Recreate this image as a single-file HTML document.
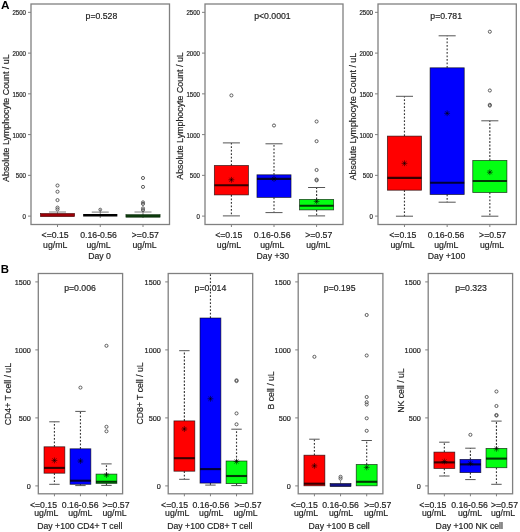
<!DOCTYPE html>
<html><head><meta charset="utf-8"><title>Boxplots</title>
<style>html,body{margin:0;padding:0;background:#fff;width:520px;height:532px;overflow:hidden}svg{display:block;will-change:transform}text{font-family:"Liberation Sans",sans-serif}</style>
</head><body>
<svg width="520" height="532" viewBox="0 0 520 532" font-family="Liberation Sans, sans-serif">
<rect width="520" height="532" fill="#fff"/>
<text x="1.00" y="9.30" font-size="11.8" text-anchor="start" fill="#000" font-weight="bold">A</text>
<text x="0.80" y="273.20" font-size="11.4" text-anchor="start" fill="#000" font-weight="bold">B</text>
<rect x="31.00" y="4.00" width="138.50" height="220.50" fill="none" stroke="#808080" stroke-width="1.3"/>
<line x1="28.00" y1="216.10" x2="31.00" y2="216.10" stroke="#808080" stroke-width="1"/>
<text x="26.00" y="219.20" font-size="6.4" text-anchor="end" fill="#222" stroke="#222" stroke-width="0.18" textLength="3.40" lengthAdjust="spacingAndGlyphs">0</text>
<line x1="28.00" y1="175.35" x2="31.00" y2="175.35" stroke="#808080" stroke-width="1"/>
<text x="26.00" y="178.45" font-size="6.4" text-anchor="end" fill="#222" stroke="#222" stroke-width="0.18" textLength="10.20" lengthAdjust="spacingAndGlyphs">500</text>
<line x1="28.00" y1="134.60" x2="31.00" y2="134.60" stroke="#808080" stroke-width="1"/>
<text x="26.00" y="137.70" font-size="6.4" text-anchor="end" fill="#222" stroke="#222" stroke-width="0.18" textLength="13.60" lengthAdjust="spacingAndGlyphs">1000</text>
<line x1="28.00" y1="93.85" x2="31.00" y2="93.85" stroke="#808080" stroke-width="1"/>
<text x="26.00" y="96.95" font-size="6.4" text-anchor="end" fill="#222" stroke="#222" stroke-width="0.18" textLength="13.60" lengthAdjust="spacingAndGlyphs">1500</text>
<line x1="28.00" y1="53.10" x2="31.00" y2="53.10" stroke="#808080" stroke-width="1"/>
<text x="26.00" y="56.20" font-size="6.4" text-anchor="end" fill="#222" stroke="#222" stroke-width="0.18" textLength="13.60" lengthAdjust="spacingAndGlyphs">2000</text>
<line x1="28.00" y1="12.35" x2="31.00" y2="12.35" stroke="#808080" stroke-width="1"/>
<text x="26.00" y="15.45" font-size="6.4" text-anchor="end" fill="#222" stroke="#222" stroke-width="0.18" textLength="13.60" lengthAdjust="spacingAndGlyphs">2500</text>
<line x1="57.50" y1="224.50" x2="57.50" y2="227.00" stroke="#808080" stroke-width="1"/>
<line x1="100.25" y1="224.50" x2="100.25" y2="227.00" stroke="#808080" stroke-width="1"/>
<line x1="143.00" y1="224.50" x2="143.00" y2="227.00" stroke="#808080" stroke-width="1"/>
<text x="9.10" y="118.20" font-size="8.85" text-anchor="middle" fill="#222" stroke="#222" stroke-width="0.18" transform="rotate(-90 9.10 118.20)">Absolute Lymphocyte Count / uL</text>
<text x="101.40" y="18.80" font-size="8.7" text-anchor="middle" fill="#222" stroke="#222" stroke-width="0.18">p=0.528</text>
<text x="55.10" y="237.60" font-size="8.7" text-anchor="middle" fill="#222" stroke="#222" stroke-width="0.18">&lt;=0.15</text>
<text x="55.20" y="248.10" font-size="8.7" text-anchor="middle" fill="#222" stroke="#222" stroke-width="0.18">ug/mL</text>
<text x="98.60" y="237.60" font-size="8.7" text-anchor="middle" fill="#222" stroke="#222" stroke-width="0.18">0.16-0.56</text>
<text x="98.60" y="248.10" font-size="8.7" text-anchor="middle" fill="#222" stroke="#222" stroke-width="0.18">ug/mL</text>
<text x="145.30" y="237.60" font-size="8.7" text-anchor="middle" fill="#222" stroke="#222" stroke-width="0.18">&gt;=0.57</text>
<text x="144.60" y="248.10" font-size="8.7" text-anchor="middle" fill="#222" stroke="#222" stroke-width="0.18">ug/mL</text>
<text x="99.50" y="258.90" font-size="8.7" text-anchor="middle" fill="#222" stroke="#222" stroke-width="0.18">Day 0</text>
<line x1="57.50" y1="213.60" x2="57.50" y2="212.00" stroke="#555" stroke-width="0.8"/>
<line x1="49.00" y1="212.00" x2="66.00" y2="212.00" stroke="#777" stroke-width="0.9"/>
<rect x="40.40" y="213.5" width="34.20" height="3.1" fill="#9a0008" stroke="#400" stroke-width="0.6"/>
<circle cx="57.50" cy="185.50" r="1.55" fill="none" stroke="#555" stroke-width="0.95"/>
<circle cx="57.50" cy="191.70" r="1.55" fill="none" stroke="#555" stroke-width="0.95"/>
<circle cx="57.50" cy="200.10" r="1.55" fill="none" stroke="#555" stroke-width="0.95"/>
<circle cx="57.50" cy="207.60" r="1.55" fill="none" stroke="#555" stroke-width="0.95"/>
<circle cx="57.50" cy="209.40" r="1.55" fill="none" stroke="#555" stroke-width="0.95"/>
<line x1="91.75" y1="212.10" x2="108.75" y2="212.10" stroke="#666" stroke-width="0.9"/>
<line x1="100.25" y1="209.00" x2="100.25" y2="218.00" stroke="#555" stroke-width="0.7"/>
<line x1="83.15" y1="215.30" x2="117.35" y2="215.30" stroke="#000" stroke-width="2.4"/>
<circle cx="100.25" cy="209.60" r="1.4" fill="none" stroke="#555" stroke-width="0.95"/>
<line x1="134.50" y1="212.00" x2="151.50" y2="212.00" stroke="#777" stroke-width="0.9"/>
<line x1="143.00" y1="210.00" x2="143.00" y2="218.00" stroke="#555" stroke-width="0.7"/>
<rect x="125.90" y="214.6" width="34.20" height="2.6" fill="#0c3a0c" stroke="#020" stroke-width="0.5"/>
<circle cx="143.00" cy="178.00" r="1.55" fill="none" stroke="#555" stroke-width="0.95"/>
<circle cx="143.00" cy="186.90" r="1.55" fill="none" stroke="#555" stroke-width="0.95"/>
<circle cx="143.00" cy="202.40" r="1.55" fill="none" stroke="#555" stroke-width="0.95"/>
<circle cx="143.00" cy="203.90" r="1.55" fill="none" stroke="#555" stroke-width="0.95"/>
<circle cx="143.00" cy="208.40" r="1.55" fill="none" stroke="#555" stroke-width="0.95"/>
<circle cx="143.00" cy="210.10" r="1.55" fill="none" stroke="#555" stroke-width="0.95"/>
<rect x="205.00" y="4.00" width="138.00" height="220.50" fill="none" stroke="#808080" stroke-width="1.3"/>
<line x1="202.00" y1="216.10" x2="205.00" y2="216.10" stroke="#808080" stroke-width="1"/>
<text x="200.00" y="219.20" font-size="6.4" text-anchor="end" fill="#222" stroke="#222" stroke-width="0.18" textLength="3.40" lengthAdjust="spacingAndGlyphs">0</text>
<line x1="202.00" y1="175.35" x2="205.00" y2="175.35" stroke="#808080" stroke-width="1"/>
<text x="200.00" y="178.45" font-size="6.4" text-anchor="end" fill="#222" stroke="#222" stroke-width="0.18" textLength="10.20" lengthAdjust="spacingAndGlyphs">500</text>
<line x1="202.00" y1="134.60" x2="205.00" y2="134.60" stroke="#808080" stroke-width="1"/>
<text x="200.00" y="137.70" font-size="6.4" text-anchor="end" fill="#222" stroke="#222" stroke-width="0.18" textLength="13.60" lengthAdjust="spacingAndGlyphs">1000</text>
<line x1="202.00" y1="93.85" x2="205.00" y2="93.85" stroke="#808080" stroke-width="1"/>
<text x="200.00" y="96.95" font-size="6.4" text-anchor="end" fill="#222" stroke="#222" stroke-width="0.18" textLength="13.60" lengthAdjust="spacingAndGlyphs">1500</text>
<line x1="202.00" y1="53.10" x2="205.00" y2="53.10" stroke="#808080" stroke-width="1"/>
<text x="200.00" y="56.20" font-size="6.4" text-anchor="end" fill="#222" stroke="#222" stroke-width="0.18" textLength="13.60" lengthAdjust="spacingAndGlyphs">2000</text>
<line x1="202.00" y1="12.35" x2="205.00" y2="12.35" stroke="#808080" stroke-width="1"/>
<text x="200.00" y="15.45" font-size="6.4" text-anchor="end" fill="#222" stroke="#222" stroke-width="0.18" textLength="13.60" lengthAdjust="spacingAndGlyphs">2500</text>
<line x1="231.41" y1="224.50" x2="231.41" y2="227.00" stroke="#808080" stroke-width="1"/>
<line x1="274.00" y1="224.50" x2="274.00" y2="227.00" stroke="#808080" stroke-width="1"/>
<line x1="316.59" y1="224.50" x2="316.59" y2="227.00" stroke="#808080" stroke-width="1"/>
<text x="182.50" y="116.00" font-size="8.85" text-anchor="middle" fill="#222" stroke="#222" stroke-width="0.18" transform="rotate(-90 182.50 116.00)">Absolute Lymphocyte Count / uL</text>
<text x="272.40" y="19.30" font-size="8.7" text-anchor="middle" fill="#222" stroke="#222" stroke-width="0.18">p&lt;0.0001</text>
<text x="228.70" y="237.60" font-size="8.7" text-anchor="middle" fill="#222" stroke="#222" stroke-width="0.18">&lt;=0.15</text>
<text x="228.90" y="248.10" font-size="8.7" text-anchor="middle" fill="#222" stroke="#222" stroke-width="0.18">ug/mL</text>
<text x="272.20" y="237.60" font-size="8.7" text-anchor="middle" fill="#222" stroke="#222" stroke-width="0.18">0.16-0.56</text>
<text x="272.30" y="248.10" font-size="8.7" text-anchor="middle" fill="#222" stroke="#222" stroke-width="0.18">ug/mL</text>
<text x="318.70" y="237.60" font-size="8.7" text-anchor="middle" fill="#222" stroke="#222" stroke-width="0.18">&gt;=0.57</text>
<text x="318.30" y="248.10" font-size="8.7" text-anchor="middle" fill="#222" stroke="#222" stroke-width="0.18">ug/mL</text>
<text x="272.90" y="258.90" font-size="8.7" text-anchor="middle" fill="#222" stroke="#222" stroke-width="0.18">Day +30</text>
<line x1="231.41" y1="165.50" x2="231.41" y2="142.90" stroke="#3a3a3a" stroke-width="1.15" stroke-dasharray="1.8 1.7"/>
<line x1="222.89" y1="142.90" x2="239.93" y2="142.90" stroke="#555" stroke-width="1"/>
<line x1="231.41" y1="194.90" x2="231.41" y2="215.90" stroke="#3a3a3a" stroke-width="1.15" stroke-dasharray="1.8 1.7"/>
<line x1="222.89" y1="215.90" x2="239.93" y2="215.90" stroke="#555" stroke-width="1"/>
<rect x="214.37" y="165.50" width="34.07" height="29.40" fill="#ff0000" stroke="#000" stroke-opacity="0.7" stroke-width="0.8"/>
<line x1="214.37" y1="185.30" x2="248.44" y2="185.30" stroke="#000" stroke-width="2.1" stroke-opacity="0.78"/>
<path d="M228.51 179.80H234.31M231.41 176.90V182.70M229.36 177.75L233.46 181.85M229.36 181.85L233.46 177.75" stroke="#000" stroke-opacity="0.7" stroke-width="0.8" fill="none"/>
<circle cx="231.41" cy="95.40" r="1.55" fill="none" stroke="#555" stroke-width="0.95"/>
<line x1="274.00" y1="174.80" x2="274.00" y2="143.80" stroke="#3a3a3a" stroke-width="1.15" stroke-dasharray="1.8 1.7"/>
<line x1="265.48" y1="143.80" x2="282.52" y2="143.80" stroke="#555" stroke-width="1"/>
<line x1="274.00" y1="197.40" x2="274.00" y2="212.60" stroke="#3a3a3a" stroke-width="1.15" stroke-dasharray="1.8 1.7"/>
<line x1="265.48" y1="212.60" x2="282.52" y2="212.60" stroke="#555" stroke-width="1"/>
<rect x="256.96" y="174.80" width="34.07" height="22.60" fill="#0000ff" stroke="#000" stroke-opacity="0.7" stroke-width="0.8"/>
<line x1="256.96" y1="178.90" x2="291.04" y2="178.90" stroke="#000" stroke-width="2.1" stroke-opacity="0.78"/>
<path d="M271.10 178.90H276.90M274.00 176.00V181.80M271.95 176.85L276.05 180.95M271.95 180.95L276.05 176.85" stroke="#000" stroke-opacity="0.7" stroke-width="0.8" fill="none"/>
<circle cx="274.00" cy="125.50" r="1.55" fill="none" stroke="#555" stroke-width="0.95"/>
<line x1="316.59" y1="199.40" x2="316.59" y2="187.50" stroke="#3a3a3a" stroke-width="1.15" stroke-dasharray="1.8 1.7"/>
<line x1="308.07" y1="187.50" x2="325.11" y2="187.50" stroke="#555" stroke-width="1"/>
<line x1="316.59" y1="209.90" x2="316.59" y2="215.90" stroke="#3a3a3a" stroke-width="1.15" stroke-dasharray="1.8 1.7"/>
<line x1="308.07" y1="215.90" x2="325.11" y2="215.90" stroke="#555" stroke-width="1"/>
<rect x="299.56" y="199.40" width="34.07" height="10.50" fill="#03ff12" stroke="#000" stroke-opacity="0.7" stroke-width="0.8"/>
<line x1="299.56" y1="205.80" x2="333.63" y2="205.80" stroke="#000" stroke-width="2.1" stroke-opacity="0.78"/>
<path d="M313.69 201.40H319.49M316.59 198.50V204.30M314.54 199.35L318.64 203.45M314.54 203.45L318.64 199.35" stroke="#000" stroke-opacity="0.7" stroke-width="0.8" fill="none"/>
<circle cx="316.59" cy="121.50" r="1.55" fill="none" stroke="#555" stroke-width="0.95"/>
<circle cx="316.59" cy="141.20" r="1.55" fill="none" stroke="#555" stroke-width="0.95"/>
<circle cx="316.59" cy="170.00" r="1.55" fill="none" stroke="#555" stroke-width="0.95"/>
<circle cx="316.59" cy="179.60" r="1.55" fill="none" stroke="#555" stroke-width="0.95"/>
<circle cx="316.59" cy="180.40" r="1.55" fill="none" stroke="#555" stroke-width="0.95"/>
<rect x="378.00" y="4.00" width="138.30" height="220.50" fill="none" stroke="#808080" stroke-width="1.3"/>
<line x1="375.00" y1="216.10" x2="378.00" y2="216.10" stroke="#808080" stroke-width="1"/>
<text x="373.00" y="219.20" font-size="6.4" text-anchor="end" fill="#222" stroke="#222" stroke-width="0.18" textLength="3.40" lengthAdjust="spacingAndGlyphs">0</text>
<line x1="375.00" y1="175.35" x2="378.00" y2="175.35" stroke="#808080" stroke-width="1"/>
<text x="373.00" y="178.45" font-size="6.4" text-anchor="end" fill="#222" stroke="#222" stroke-width="0.18" textLength="10.20" lengthAdjust="spacingAndGlyphs">500</text>
<line x1="375.00" y1="134.60" x2="378.00" y2="134.60" stroke="#808080" stroke-width="1"/>
<text x="373.00" y="137.70" font-size="6.4" text-anchor="end" fill="#222" stroke="#222" stroke-width="0.18" textLength="13.60" lengthAdjust="spacingAndGlyphs">1000</text>
<line x1="375.00" y1="93.85" x2="378.00" y2="93.85" stroke="#808080" stroke-width="1"/>
<text x="373.00" y="96.95" font-size="6.4" text-anchor="end" fill="#222" stroke="#222" stroke-width="0.18" textLength="13.60" lengthAdjust="spacingAndGlyphs">1500</text>
<line x1="375.00" y1="53.10" x2="378.00" y2="53.10" stroke="#808080" stroke-width="1"/>
<text x="373.00" y="56.20" font-size="6.4" text-anchor="end" fill="#222" stroke="#222" stroke-width="0.18" textLength="13.60" lengthAdjust="spacingAndGlyphs">2000</text>
<line x1="375.00" y1="12.35" x2="378.00" y2="12.35" stroke="#808080" stroke-width="1"/>
<text x="373.00" y="15.45" font-size="6.4" text-anchor="end" fill="#222" stroke="#222" stroke-width="0.18" textLength="13.60" lengthAdjust="spacingAndGlyphs">2500</text>
<line x1="404.46" y1="224.50" x2="404.46" y2="227.00" stroke="#808080" stroke-width="1"/>
<line x1="447.15" y1="224.50" x2="447.15" y2="227.00" stroke="#808080" stroke-width="1"/>
<line x1="489.84" y1="224.50" x2="489.84" y2="227.00" stroke="#808080" stroke-width="1"/>
<text x="355.80" y="116.60" font-size="8.85" text-anchor="middle" fill="#222" stroke="#222" stroke-width="0.18" transform="rotate(-90 355.80 116.60)">Absolute Lymphocyte Count / uL</text>
<text x="446.20" y="18.80" font-size="8.7" text-anchor="middle" fill="#222" stroke="#222" stroke-width="0.18">p=0.781</text>
<text x="402.80" y="237.60" font-size="8.7" text-anchor="middle" fill="#222" stroke="#222" stroke-width="0.18">&lt;=0.15</text>
<text x="402.50" y="248.10" font-size="8.7" text-anchor="middle" fill="#222" stroke="#222" stroke-width="0.18">ug/mL</text>
<text x="446.00" y="237.60" font-size="8.7" text-anchor="middle" fill="#222" stroke="#222" stroke-width="0.18">0.16-0.56</text>
<text x="446.30" y="248.10" font-size="8.7" text-anchor="middle" fill="#222" stroke="#222" stroke-width="0.18">ug/mL</text>
<text x="492.60" y="237.60" font-size="8.7" text-anchor="middle" fill="#222" stroke="#222" stroke-width="0.18">&gt;=0.57</text>
<text x="492.10" y="248.10" font-size="8.7" text-anchor="middle" fill="#222" stroke="#222" stroke-width="0.18">ug/mL</text>
<text x="446.50" y="258.90" font-size="8.7" text-anchor="middle" fill="#222" stroke="#222" stroke-width="0.18">Day +100</text>
<line x1="404.46" y1="136.10" x2="404.46" y2="96.30" stroke="#3a3a3a" stroke-width="1.15" stroke-dasharray="1.8 1.7"/>
<line x1="395.93" y1="96.30" x2="413.00" y2="96.30" stroke="#555" stroke-width="1"/>
<line x1="404.46" y1="190.20" x2="404.46" y2="216.20" stroke="#3a3a3a" stroke-width="1.15" stroke-dasharray="1.8 1.7"/>
<line x1="395.93" y1="216.20" x2="413.00" y2="216.20" stroke="#555" stroke-width="1"/>
<rect x="387.39" y="136.10" width="34.15" height="54.10" fill="#ff0000" stroke="#000" stroke-opacity="0.7" stroke-width="0.8"/>
<line x1="387.39" y1="177.90" x2="421.54" y2="177.90" stroke="#000" stroke-width="2.1" stroke-opacity="0.78"/>
<path d="M401.56 163.30H407.36M404.46 160.40V166.20M402.41 161.25L406.52 165.35M402.41 165.35L406.52 161.25" stroke="#000" stroke-opacity="0.7" stroke-width="0.8" fill="none"/>
<line x1="447.15" y1="67.80" x2="447.15" y2="35.80" stroke="#3a3a3a" stroke-width="1.15" stroke-dasharray="1.8 1.7"/>
<line x1="438.61" y1="35.80" x2="455.69" y2="35.80" stroke="#555" stroke-width="1"/>
<line x1="447.15" y1="194.50" x2="447.15" y2="202.20" stroke="#3a3a3a" stroke-width="1.15" stroke-dasharray="1.8 1.7"/>
<line x1="438.61" y1="202.20" x2="455.69" y2="202.20" stroke="#555" stroke-width="1"/>
<rect x="430.08" y="67.80" width="34.15" height="126.70" fill="#0000ff" stroke="#000" stroke-opacity="0.7" stroke-width="0.8"/>
<line x1="430.08" y1="182.70" x2="464.22" y2="182.70" stroke="#000" stroke-width="2.1" stroke-opacity="0.78"/>
<path d="M444.25 113.30H450.05M447.15 110.40V116.20M445.10 111.25L449.20 115.35M445.10 115.35L449.20 111.25" stroke="#000" stroke-opacity="0.7" stroke-width="0.8" fill="none"/>
<line x1="489.84" y1="160.40" x2="489.84" y2="120.80" stroke="#3a3a3a" stroke-width="1.15" stroke-dasharray="1.8 1.7"/>
<line x1="481.30" y1="120.80" x2="498.37" y2="120.80" stroke="#555" stroke-width="1"/>
<line x1="489.84" y1="192.50" x2="489.84" y2="216.20" stroke="#3a3a3a" stroke-width="1.15" stroke-dasharray="1.8 1.7"/>
<line x1="481.30" y1="216.20" x2="498.37" y2="216.20" stroke="#555" stroke-width="1"/>
<rect x="472.76" y="160.40" width="34.15" height="32.10" fill="#03ff12" stroke="#000" stroke-opacity="0.7" stroke-width="0.8"/>
<line x1="472.76" y1="181.00" x2="506.91" y2="181.00" stroke="#000" stroke-width="2.1" stroke-opacity="0.78"/>
<path d="M486.94 172.20H492.74M489.84 169.30V175.10M487.78 170.15L491.89 174.25M487.78 174.25L491.89 170.15" stroke="#000" stroke-opacity="0.7" stroke-width="0.8" fill="none"/>
<circle cx="489.84" cy="31.70" r="1.55" fill="none" stroke="#555" stroke-width="0.95"/>
<circle cx="489.84" cy="90.50" r="1.55" fill="none" stroke="#555" stroke-width="0.95"/>
<circle cx="489.84" cy="104.80" r="1.55" fill="none" stroke="#555" stroke-width="0.95"/>
<circle cx="489.84" cy="105.60" r="1.55" fill="none" stroke="#555" stroke-width="0.95"/>
<rect x="38.30" y="273.50" width="84.30" height="220.30" fill="none" stroke="#808080" stroke-width="1.3"/>
<line x1="35.30" y1="485.90" x2="38.30" y2="485.90" stroke="#808080" stroke-width="1"/>
<text x="30.90" y="488.70" font-size="6.7" text-anchor="end" fill="#222" stroke="#222" stroke-width="0.18" textLength="4.05" lengthAdjust="spacingAndGlyphs">0</text>
<line x1="35.30" y1="417.90" x2="38.30" y2="417.90" stroke="#808080" stroke-width="1"/>
<text x="30.90" y="420.70" font-size="6.7" text-anchor="end" fill="#222" stroke="#222" stroke-width="0.18" textLength="12.15" lengthAdjust="spacingAndGlyphs">500</text>
<line x1="35.30" y1="349.90" x2="38.30" y2="349.90" stroke="#808080" stroke-width="1"/>
<text x="30.90" y="352.70" font-size="6.7" text-anchor="end" fill="#222" stroke="#222" stroke-width="0.18" textLength="16.20" lengthAdjust="spacingAndGlyphs">1000</text>
<line x1="35.30" y1="281.90" x2="38.30" y2="281.90" stroke="#808080" stroke-width="1"/>
<text x="30.90" y="284.70" font-size="6.7" text-anchor="end" fill="#222" stroke="#222" stroke-width="0.18" textLength="16.20" lengthAdjust="spacingAndGlyphs">1500</text>
<line x1="54.43" y1="493.80" x2="54.43" y2="496.30" stroke="#808080" stroke-width="1"/>
<line x1="80.45" y1="493.80" x2="80.45" y2="496.30" stroke="#808080" stroke-width="1"/>
<line x1="106.47" y1="493.80" x2="106.47" y2="496.30" stroke="#808080" stroke-width="1"/>
<text x="11.30" y="394.10" font-size="8.7" text-anchor="middle" fill="#222" stroke="#222" stroke-width="0.18" transform="rotate(-90 11.30 394.10)">CD4+ T cell / uL</text>
<text x="80.00" y="291.20" font-size="8.7" text-anchor="middle" fill="#222" stroke="#222" stroke-width="0.18">p=0.006</text>
<text x="43.50" y="508.40" font-size="8.7" text-anchor="middle" fill="#222" stroke="#222" stroke-width="0.18">&lt;=0.15</text>
<text x="46.30" y="516.40" font-size="8.7" text-anchor="middle" fill="#222" stroke="#222" stroke-width="0.18">ug/mL</text>
<text x="80.20" y="508.40" font-size="8.7" text-anchor="middle" fill="#222" stroke="#222" stroke-width="0.18">0.16-0.56</text>
<text x="80.30" y="516.40" font-size="8.7" text-anchor="middle" fill="#222" stroke="#222" stroke-width="0.18">ug/mL</text>
<text x="116.00" y="508.40" font-size="8.7" text-anchor="middle" fill="#222" stroke="#222" stroke-width="0.18">&gt;=0.57</text>
<text x="114.50" y="516.40" font-size="8.7" text-anchor="middle" fill="#222" stroke="#222" stroke-width="0.18">ug/mL</text>
<text x="79.80" y="528.90" font-size="8.7" text-anchor="middle" fill="#222" stroke="#222" stroke-width="0.18">Day +100 CD4+ T cell</text>
<line x1="54.43" y1="446.80" x2="54.43" y2="421.80" stroke="#3a3a3a" stroke-width="1.15" stroke-dasharray="1.8 1.7"/>
<line x1="49.23" y1="421.80" x2="59.64" y2="421.80" stroke="#555" stroke-width="1"/>
<line x1="54.43" y1="473.20" x2="54.43" y2="484.30" stroke="#3a3a3a" stroke-width="1.15" stroke-dasharray="1.8 1.7"/>
<line x1="49.23" y1="484.30" x2="59.64" y2="484.30" stroke="#555" stroke-width="1"/>
<rect x="44.02" y="446.80" width="20.81" height="26.40" fill="#ff0000" stroke="#000" stroke-opacity="0.7" stroke-width="0.8"/>
<line x1="44.02" y1="467.90" x2="64.84" y2="467.90" stroke="#000" stroke-width="2.1" stroke-opacity="0.78"/>
<path d="M51.53 460.40H57.33M54.43 457.50V463.30M52.38 458.35L56.48 462.45M52.38 462.45L56.48 458.35" stroke="#000" stroke-opacity="0.7" stroke-width="0.8" fill="none"/>
<line x1="80.45" y1="448.80" x2="80.45" y2="411.40" stroke="#3a3a3a" stroke-width="1.15" stroke-dasharray="1.8 1.7"/>
<line x1="75.25" y1="411.40" x2="85.65" y2="411.40" stroke="#555" stroke-width="1"/>
<line x1="80.45" y1="484.30" x2="80.45" y2="485.60" stroke="#3a3a3a" stroke-width="1.15" stroke-dasharray="1.8 1.7"/>
<line x1="75.25" y1="485.60" x2="85.65" y2="485.60" stroke="#555" stroke-width="1"/>
<rect x="70.04" y="448.80" width="20.81" height="35.50" fill="#0000ff" stroke="#000" stroke-opacity="0.7" stroke-width="0.8"/>
<line x1="70.04" y1="480.70" x2="90.86" y2="480.70" stroke="#000" stroke-width="2.1" stroke-opacity="0.78"/>
<path d="M77.55 461.00H83.35M80.45 458.10V463.90M78.40 458.95L82.50 463.05M78.40 463.05L82.50 458.95" stroke="#000" stroke-opacity="0.7" stroke-width="0.8" fill="none"/>
<circle cx="80.45" cy="387.60" r="1.55" fill="none" stroke="#555" stroke-width="0.95"/>
<line x1="106.47" y1="474.10" x2="106.47" y2="463.90" stroke="#3a3a3a" stroke-width="1.15" stroke-dasharray="1.8 1.7"/>
<line x1="101.26" y1="463.90" x2="111.67" y2="463.90" stroke="#555" stroke-width="1"/>
<line x1="106.47" y1="483.40" x2="106.47" y2="485.40" stroke="#3a3a3a" stroke-width="1.15" stroke-dasharray="1.8 1.7"/>
<line x1="101.26" y1="485.40" x2="111.67" y2="485.40" stroke="#555" stroke-width="1"/>
<rect x="96.06" y="474.10" width="20.81" height="9.30" fill="#03ff12" stroke="#000" stroke-opacity="0.7" stroke-width="0.8"/>
<line x1="96.06" y1="481.80" x2="116.88" y2="481.80" stroke="#000" stroke-width="2.1" stroke-opacity="0.78"/>
<path d="M103.57 475.00H109.37M106.47 472.10V477.90M104.42 472.95L108.52 477.05M104.42 477.05L108.52 472.95" stroke="#000" stroke-opacity="0.7" stroke-width="0.8" fill="none"/>
<circle cx="106.47" cy="345.80" r="1.55" fill="none" stroke="#555" stroke-width="0.95"/>
<circle cx="106.47" cy="426.80" r="1.55" fill="none" stroke="#555" stroke-width="0.95"/>
<circle cx="106.47" cy="431.30" r="1.55" fill="none" stroke="#555" stroke-width="0.95"/>
<rect x="168.20" y="273.50" width="84.50" height="220.30" fill="none" stroke="#808080" stroke-width="1.3"/>
<line x1="165.20" y1="485.90" x2="168.20" y2="485.90" stroke="#808080" stroke-width="1"/>
<text x="160.80" y="488.70" font-size="6.7" text-anchor="end" fill="#222" stroke="#222" stroke-width="0.18" textLength="4.05" lengthAdjust="spacingAndGlyphs">0</text>
<line x1="165.20" y1="417.90" x2="168.20" y2="417.90" stroke="#808080" stroke-width="1"/>
<text x="160.80" y="420.70" font-size="6.7" text-anchor="end" fill="#222" stroke="#222" stroke-width="0.18" textLength="12.15" lengthAdjust="spacingAndGlyphs">500</text>
<line x1="165.20" y1="349.90" x2="168.20" y2="349.90" stroke="#808080" stroke-width="1"/>
<text x="160.80" y="352.70" font-size="6.7" text-anchor="end" fill="#222" stroke="#222" stroke-width="0.18" textLength="16.20" lengthAdjust="spacingAndGlyphs">1000</text>
<line x1="165.20" y1="281.90" x2="168.20" y2="281.90" stroke="#808080" stroke-width="1"/>
<text x="160.80" y="284.70" font-size="6.7" text-anchor="end" fill="#222" stroke="#222" stroke-width="0.18" textLength="16.20" lengthAdjust="spacingAndGlyphs">1500</text>
<line x1="184.37" y1="493.80" x2="184.37" y2="496.30" stroke="#808080" stroke-width="1"/>
<line x1="210.45" y1="493.80" x2="210.45" y2="496.30" stroke="#808080" stroke-width="1"/>
<line x1="236.53" y1="493.80" x2="236.53" y2="496.30" stroke="#808080" stroke-width="1"/>
<text x="143.10" y="393.50" font-size="8.7" text-anchor="middle" fill="#222" stroke="#222" stroke-width="0.18" transform="rotate(-90 143.10 393.50)">CD8+ T cell / uL</text>
<text x="210.40" y="290.90" font-size="8.7" text-anchor="middle" fill="#222" stroke="#222" stroke-width="0.18">p=0.014</text>
<text x="174.60" y="508.40" font-size="8.7" text-anchor="middle" fill="#222" stroke="#222" stroke-width="0.18">&lt;=0.15</text>
<text x="177.20" y="516.40" font-size="8.7" text-anchor="middle" fill="#222" stroke="#222" stroke-width="0.18">ug/mL</text>
<text x="210.90" y="508.40" font-size="8.7" text-anchor="middle" fill="#222" stroke="#222" stroke-width="0.18">0.16-0.56</text>
<text x="211.20" y="516.40" font-size="8.7" text-anchor="middle" fill="#222" stroke="#222" stroke-width="0.18">ug/mL</text>
<text x="248.00" y="508.40" font-size="8.7" text-anchor="middle" fill="#222" stroke="#222" stroke-width="0.18">&gt;=0.57</text>
<text x="245.50" y="516.40" font-size="8.7" text-anchor="middle" fill="#222" stroke="#222" stroke-width="0.18">ug/mL</text>
<text x="209.80" y="528.90" font-size="8.7" text-anchor="middle" fill="#222" stroke="#222" stroke-width="0.18">Day +100 CD8+ T cell</text>
<line x1="184.37" y1="420.90" x2="184.37" y2="350.70" stroke="#3a3a3a" stroke-width="1.15" stroke-dasharray="1.8 1.7"/>
<line x1="179.15" y1="350.70" x2="189.59" y2="350.70" stroke="#555" stroke-width="1"/>
<line x1="184.37" y1="471.20" x2="184.37" y2="479.30" stroke="#3a3a3a" stroke-width="1.15" stroke-dasharray="1.8 1.7"/>
<line x1="179.15" y1="479.30" x2="189.59" y2="479.30" stroke="#555" stroke-width="1"/>
<rect x="173.94" y="420.90" width="20.86" height="50.30" fill="#ff0000" stroke="#000" stroke-opacity="0.7" stroke-width="0.8"/>
<line x1="173.94" y1="458.20" x2="194.80" y2="458.20" stroke="#000" stroke-width="2.1" stroke-opacity="0.78"/>
<path d="M181.47 429.00H187.27M184.37 426.10V431.90M182.32 426.95L186.42 431.05M182.32 431.05L186.42 426.95" stroke="#000" stroke-opacity="0.7" stroke-width="0.8" fill="none"/>
<line x1="210.45" y1="318.00" x2="210.45" y2="273.50" stroke="#3a3a3a" stroke-width="1.15" stroke-dasharray="1.8 1.7"/>
<line x1="210.45" y1="483.10" x2="210.45" y2="485.10" stroke="#3a3a3a" stroke-width="1.15" stroke-dasharray="1.8 1.7"/>
<line x1="205.23" y1="485.10" x2="215.67" y2="485.10" stroke="#555" stroke-width="1"/>
<rect x="200.02" y="318.00" width="20.86" height="165.10" fill="#0000ff" stroke="#000" stroke-opacity="0.7" stroke-width="0.8"/>
<line x1="200.02" y1="469.10" x2="220.88" y2="469.10" stroke="#000" stroke-width="2.1" stroke-opacity="0.78"/>
<path d="M207.55 398.80H213.35M210.45 395.90V401.70M208.40 396.75L212.50 400.85M208.40 400.85L212.50 396.75" stroke="#000" stroke-opacity="0.7" stroke-width="0.8" fill="none"/>
<line x1="236.53" y1="461.00" x2="236.53" y2="429.20" stroke="#3a3a3a" stroke-width="1.15" stroke-dasharray="1.8 1.7"/>
<line x1="231.31" y1="429.20" x2="241.75" y2="429.20" stroke="#555" stroke-width="1"/>
<line x1="236.53" y1="483.60" x2="236.53" y2="485.60" stroke="#3a3a3a" stroke-width="1.15" stroke-dasharray="1.8 1.7"/>
<line x1="231.31" y1="485.60" x2="241.75" y2="485.60" stroke="#555" stroke-width="1"/>
<rect x="226.10" y="461.00" width="20.86" height="22.60" fill="#03ff12" stroke="#000" stroke-opacity="0.7" stroke-width="0.8"/>
<line x1="226.10" y1="476.00" x2="246.96" y2="476.00" stroke="#000" stroke-width="2.1" stroke-opacity="0.78"/>
<path d="M233.63 461.50H239.43M236.53 458.60V464.40M234.48 459.45L238.58 463.55M234.48 463.55L238.58 459.45" stroke="#000" stroke-opacity="0.7" stroke-width="0.8" fill="none"/>
<circle cx="236.53" cy="380.30" r="1.55" fill="none" stroke="#555" stroke-width="0.95"/>
<circle cx="236.53" cy="381.10" r="1.55" fill="none" stroke="#555" stroke-width="0.95"/>
<circle cx="236.53" cy="413.40" r="1.55" fill="none" stroke="#555" stroke-width="0.95"/>
<circle cx="236.53" cy="424.30" r="1.55" fill="none" stroke="#555" stroke-width="0.95"/>
<rect x="298.20" y="273.50" width="84.70" height="220.30" fill="none" stroke="#808080" stroke-width="1.3"/>
<line x1="295.20" y1="485.90" x2="298.20" y2="485.90" stroke="#808080" stroke-width="1"/>
<text x="290.80" y="488.70" font-size="6.7" text-anchor="end" fill="#222" stroke="#222" stroke-width="0.18" textLength="4.05" lengthAdjust="spacingAndGlyphs">0</text>
<line x1="295.20" y1="417.90" x2="298.20" y2="417.90" stroke="#808080" stroke-width="1"/>
<text x="290.80" y="420.70" font-size="6.7" text-anchor="end" fill="#222" stroke="#222" stroke-width="0.18" textLength="12.15" lengthAdjust="spacingAndGlyphs">500</text>
<line x1="295.20" y1="349.90" x2="298.20" y2="349.90" stroke="#808080" stroke-width="1"/>
<text x="290.80" y="352.70" font-size="6.7" text-anchor="end" fill="#222" stroke="#222" stroke-width="0.18" textLength="16.20" lengthAdjust="spacingAndGlyphs">1000</text>
<line x1="295.20" y1="281.90" x2="298.20" y2="281.90" stroke="#808080" stroke-width="1"/>
<text x="290.80" y="284.70" font-size="6.7" text-anchor="end" fill="#222" stroke="#222" stroke-width="0.18" textLength="16.20" lengthAdjust="spacingAndGlyphs">1500</text>
<line x1="314.41" y1="493.80" x2="314.41" y2="496.30" stroke="#808080" stroke-width="1"/>
<line x1="340.55" y1="493.80" x2="340.55" y2="496.30" stroke="#808080" stroke-width="1"/>
<line x1="366.69" y1="493.80" x2="366.69" y2="496.30" stroke="#808080" stroke-width="1"/>
<text x="274.30" y="390.40" font-size="8.7" text-anchor="middle" fill="#222" stroke="#222" stroke-width="0.18" transform="rotate(-90 274.30 390.40)">B cell / uL</text>
<text x="339.70" y="291.20" font-size="8.7" text-anchor="middle" fill="#222" stroke="#222" stroke-width="0.18">p=0.195</text>
<text x="304.20" y="508.40" font-size="8.7" text-anchor="middle" fill="#222" stroke="#222" stroke-width="0.18">&lt;=0.15</text>
<text x="306.00" y="516.40" font-size="8.7" text-anchor="middle" fill="#222" stroke="#222" stroke-width="0.18">ug/mL</text>
<text x="340.60" y="508.40" font-size="8.7" text-anchor="middle" fill="#222" stroke="#222" stroke-width="0.18">0.16-0.56</text>
<text x="341.00" y="516.40" font-size="8.7" text-anchor="middle" fill="#222" stroke="#222" stroke-width="0.18">ug/mL</text>
<text x="377.70" y="508.40" font-size="8.7" text-anchor="middle" fill="#222" stroke="#222" stroke-width="0.18">&gt;=0.57</text>
<text x="376.00" y="516.40" font-size="8.7" text-anchor="middle" fill="#222" stroke="#222" stroke-width="0.18">ug/mL</text>
<text x="339.10" y="528.90" font-size="8.7" text-anchor="middle" fill="#222" stroke="#222" stroke-width="0.18">Day +100 B cell</text>
<line x1="314.41" y1="455.20" x2="314.41" y2="439.20" stroke="#3a3a3a" stroke-width="1.15" stroke-dasharray="1.8 1.7"/>
<line x1="309.18" y1="439.20" x2="319.64" y2="439.20" stroke="#555" stroke-width="1"/>
<rect x="303.95" y="455.20" width="20.91" height="30.60" fill="#ff0000" stroke="#000" stroke-opacity="0.7" stroke-width="0.8"/>
<line x1="303.95" y1="483.70" x2="324.86" y2="483.70" stroke="#000" stroke-width="2.1" stroke-opacity="0.78"/>
<path d="M311.51 465.90H317.31M314.41 463.00V468.80M312.36 463.85L316.46 467.95M312.36 467.95L316.46 463.85" stroke="#000" stroke-opacity="0.7" stroke-width="0.8" fill="none"/>
<circle cx="314.41" cy="356.80" r="1.55" fill="none" stroke="#555" stroke-width="0.95"/>
<line x1="340.55" y1="480.50" x2="340.55" y2="483.60" stroke="#666" stroke-width="0.7"/>
<rect x="330.09" y="483.6" width="20.91" height="2.9" fill="#101080" stroke="#001" stroke-width="0.6"/>
<circle cx="340.55" cy="476.80" r="1.55" fill="none" stroke="#555" stroke-width="0.95"/>
<circle cx="340.55" cy="478.60" r="1.55" fill="none" stroke="#555" stroke-width="0.95"/>
<line x1="366.69" y1="464.50" x2="366.69" y2="440.50" stroke="#3a3a3a" stroke-width="1.15" stroke-dasharray="1.8 1.7"/>
<line x1="361.46" y1="440.50" x2="371.92" y2="440.50" stroke="#555" stroke-width="1"/>
<rect x="356.24" y="464.50" width="20.91" height="21.30" fill="#03ff12" stroke="#000" stroke-opacity="0.7" stroke-width="0.8"/>
<line x1="356.24" y1="481.80" x2="377.15" y2="481.80" stroke="#000" stroke-width="2.1" stroke-opacity="0.78"/>
<path d="M363.79 467.40H369.59M366.69 464.50V470.30M364.64 465.35L368.74 469.45M364.64 469.45L368.74 465.35" stroke="#000" stroke-opacity="0.7" stroke-width="0.8" fill="none"/>
<circle cx="366.69" cy="315.00" r="1.55" fill="none" stroke="#555" stroke-width="0.95"/>
<circle cx="366.69" cy="355.50" r="1.55" fill="none" stroke="#555" stroke-width="0.95"/>
<circle cx="366.69" cy="397.00" r="1.55" fill="none" stroke="#555" stroke-width="0.95"/>
<circle cx="366.69" cy="402.20" r="1.55" fill="none" stroke="#555" stroke-width="0.95"/>
<circle cx="366.69" cy="404.50" r="1.55" fill="none" stroke="#555" stroke-width="0.95"/>
<circle cx="366.69" cy="418.30" r="1.55" fill="none" stroke="#555" stroke-width="0.95"/>
<circle cx="366.69" cy="430.80" r="1.55" fill="none" stroke="#555" stroke-width="0.95"/>
<rect x="428.20" y="273.50" width="84.40" height="220.30" fill="none" stroke="#808080" stroke-width="1.3"/>
<line x1="425.20" y1="485.90" x2="428.20" y2="485.90" stroke="#808080" stroke-width="1"/>
<text x="420.80" y="488.70" font-size="6.7" text-anchor="end" fill="#222" stroke="#222" stroke-width="0.18" textLength="4.05" lengthAdjust="spacingAndGlyphs">0</text>
<line x1="425.20" y1="417.90" x2="428.20" y2="417.90" stroke="#808080" stroke-width="1"/>
<text x="420.80" y="420.70" font-size="6.7" text-anchor="end" fill="#222" stroke="#222" stroke-width="0.18" textLength="12.15" lengthAdjust="spacingAndGlyphs">500</text>
<line x1="425.20" y1="349.90" x2="428.20" y2="349.90" stroke="#808080" stroke-width="1"/>
<text x="420.80" y="352.70" font-size="6.7" text-anchor="end" fill="#222" stroke="#222" stroke-width="0.18" textLength="16.20" lengthAdjust="spacingAndGlyphs">1000</text>
<line x1="425.20" y1="281.90" x2="428.20" y2="281.90" stroke="#808080" stroke-width="1"/>
<text x="420.80" y="284.70" font-size="6.7" text-anchor="end" fill="#222" stroke="#222" stroke-width="0.18" textLength="16.20" lengthAdjust="spacingAndGlyphs">1500</text>
<line x1="444.35" y1="493.80" x2="444.35" y2="496.30" stroke="#808080" stroke-width="1"/>
<line x1="470.40" y1="493.80" x2="470.40" y2="496.30" stroke="#808080" stroke-width="1"/>
<line x1="496.45" y1="493.80" x2="496.45" y2="496.30" stroke="#808080" stroke-width="1"/>
<text x="404.00" y="390.50" font-size="8.7" text-anchor="middle" fill="#222" stroke="#222" stroke-width="0.18" transform="rotate(-90 404.00 390.50)">NK cell / uL</text>
<text x="471.00" y="291.00" font-size="8.7" text-anchor="middle" fill="#222" stroke="#222" stroke-width="0.18">p=0.323</text>
<text x="432.90" y="508.40" font-size="8.7" text-anchor="middle" fill="#222" stroke="#222" stroke-width="0.18">&lt;=0.15</text>
<text x="434.00" y="516.40" font-size="8.7" text-anchor="middle" fill="#222" stroke="#222" stroke-width="0.18">ug/mL</text>
<text x="469.50" y="508.40" font-size="8.7" text-anchor="middle" fill="#222" stroke="#222" stroke-width="0.18">0.16-0.56</text>
<text x="470.00" y="516.40" font-size="8.7" text-anchor="middle" fill="#222" stroke="#222" stroke-width="0.18">ug/mL</text>
<text x="504.50" y="508.40" font-size="8.7" text-anchor="middle" fill="#222" stroke="#222" stroke-width="0.18">&gt;=0.57</text>
<text x="503.00" y="516.40" font-size="8.7" text-anchor="middle" fill="#222" stroke="#222" stroke-width="0.18">ug/mL</text>
<text x="469.30" y="528.90" font-size="8.7" text-anchor="middle" fill="#222" stroke="#222" stroke-width="0.18">Day +100 NK cell</text>
<line x1="444.35" y1="452.10" x2="444.35" y2="442.20" stroke="#3a3a3a" stroke-width="1.15" stroke-dasharray="1.8 1.7"/>
<line x1="439.14" y1="442.20" x2="449.56" y2="442.20" stroke="#555" stroke-width="1"/>
<line x1="444.35" y1="468.50" x2="444.35" y2="476.00" stroke="#3a3a3a" stroke-width="1.15" stroke-dasharray="1.8 1.7"/>
<line x1="439.14" y1="476.00" x2="449.56" y2="476.00" stroke="#555" stroke-width="1"/>
<rect x="433.93" y="452.10" width="20.84" height="16.40" fill="#ff0000" stroke="#000" stroke-opacity="0.7" stroke-width="0.8"/>
<line x1="433.93" y1="462.40" x2="454.77" y2="462.40" stroke="#000" stroke-width="2.1" stroke-opacity="0.78"/>
<path d="M441.45 461.50H447.25M444.35 458.60V464.40M442.30 459.45L446.40 463.55M442.30 463.55L446.40 459.45" stroke="#000" stroke-opacity="0.7" stroke-width="0.8" fill="none"/>
<line x1="470.40" y1="459.40" x2="470.40" y2="448.20" stroke="#3a3a3a" stroke-width="1.15" stroke-dasharray="1.8 1.7"/>
<line x1="465.19" y1="448.20" x2="475.61" y2="448.20" stroke="#555" stroke-width="1"/>
<line x1="470.40" y1="472.60" x2="470.40" y2="479.60" stroke="#3a3a3a" stroke-width="1.15" stroke-dasharray="1.8 1.7"/>
<line x1="465.19" y1="479.60" x2="475.61" y2="479.60" stroke="#555" stroke-width="1"/>
<rect x="459.98" y="459.40" width="20.84" height="13.20" fill="#0000ff" stroke="#000" stroke-opacity="0.7" stroke-width="0.8"/>
<line x1="459.98" y1="464.40" x2="480.82" y2="464.40" stroke="#000" stroke-width="2.1" stroke-opacity="0.78"/>
<path d="M467.50 463.30H473.30M470.40 460.40V466.20M468.35 461.25L472.45 465.35M468.35 465.35L472.45 461.25" stroke="#000" stroke-opacity="0.7" stroke-width="0.8" fill="none"/>
<circle cx="470.40" cy="434.80" r="1.55" fill="none" stroke="#555" stroke-width="0.95"/>
<line x1="496.45" y1="448.40" x2="496.45" y2="421.10" stroke="#3a3a3a" stroke-width="1.15" stroke-dasharray="1.8 1.7"/>
<line x1="491.24" y1="421.10" x2="501.66" y2="421.10" stroke="#555" stroke-width="1"/>
<line x1="496.45" y1="467.70" x2="496.45" y2="484.30" stroke="#3a3a3a" stroke-width="1.15" stroke-dasharray="1.8 1.7"/>
<line x1="491.24" y1="484.30" x2="501.66" y2="484.30" stroke="#555" stroke-width="1"/>
<rect x="486.03" y="448.40" width="20.84" height="19.30" fill="#03ff12" stroke="#000" stroke-opacity="0.7" stroke-width="0.8"/>
<line x1="486.03" y1="458.60" x2="506.87" y2="458.60" stroke="#000" stroke-width="2.1" stroke-opacity="0.78"/>
<path d="M493.55 448.80H499.35M496.45 445.90V451.70M494.40 446.75L498.50 450.85M494.40 450.85L498.50 446.75" stroke="#000" stroke-opacity="0.7" stroke-width="0.8" fill="none"/>
<circle cx="496.45" cy="391.50" r="1.55" fill="none" stroke="#555" stroke-width="0.95"/>
<circle cx="496.45" cy="406.00" r="1.55" fill="none" stroke="#555" stroke-width="0.95"/>
<circle cx="496.45" cy="415.00" r="1.55" fill="none" stroke="#555" stroke-width="0.95"/>
<circle cx="496.45" cy="415.60" r="1.55" fill="none" stroke="#555" stroke-width="0.95"/>
</svg>
</body></html>
